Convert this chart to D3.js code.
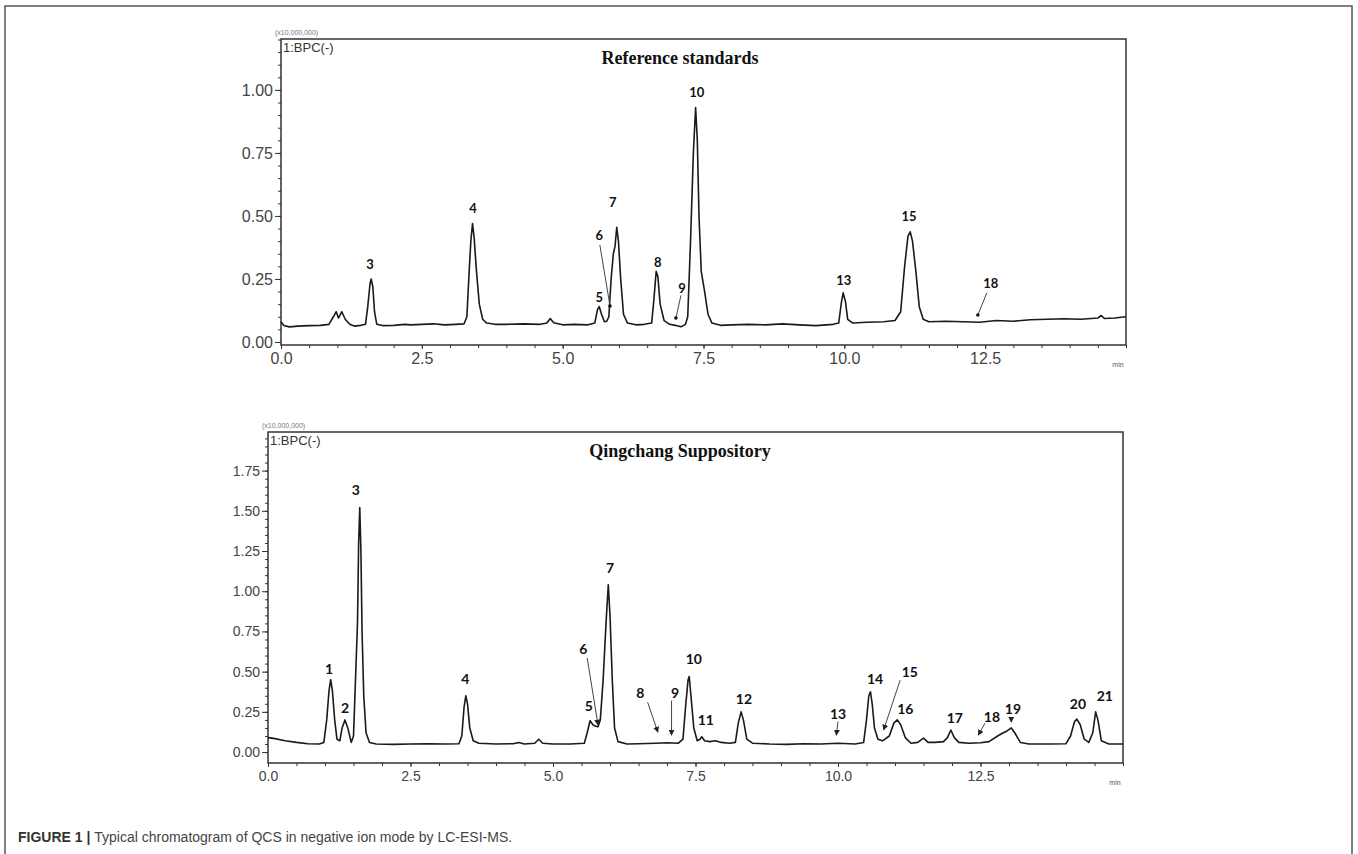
<!DOCTYPE html>
<html>
<head>
<meta charset="utf-8">
<script src="https://cdn.jsdelivr.net/npm/d3@7"></script>
<style>
  body { margin: 0; background: #fff; }
  svg { display: block; }
</style>
</head>
<body>
<svg id="fig" width="1358" height="854"></svg>
<script>
/* DATA (time in min, intensity in x10,000,000) */
const xTickLabels = [0, 2.5, 5, 7.5, 10, 12.5];
const topYTicks = [0, 0.25, 0.5, 0.75, 1.0];
const bottomYTicks = [0, 0.25, 0.5, 0.75, 1.0, 1.25, 1.5, 1.75];

// reference standards trace
const topTrace = [
  [0.0,0.08],[0.05,0.065],[0.15,0.06],[0.3,0.063],[0.5,0.065],[0.7,0.066],[0.85,0.07],
  [0.93,0.1],[0.98,0.12],[1.02,0.095],[1.08,0.12],[1.14,0.09],[1.22,0.07],[1.3,0.063],
  [1.42,0.066],[1.5,0.07],[1.54,0.14],[1.58,0.23],[1.6,0.25],[1.63,0.22],[1.66,0.12],
  [1.7,0.07],[1.8,0.065],[2.0,0.066],[2.2,0.07],[2.3,0.068],[2.5,0.07],[2.7,0.072],
  [2.9,0.068],[3.1,0.07],[3.25,0.072],[3.3,0.1],[3.34,0.28],[3.37,0.4],[3.4,0.47],
  [3.43,0.41],[3.47,0.28],[3.52,0.15],[3.58,0.09],[3.65,0.075],[3.8,0.07],[4.0,0.07],
  [4.3,0.072],[4.6,0.07],[4.72,0.075],[4.78,0.093],[4.84,0.076],[5.0,0.068],[5.2,0.07],
  [5.45,0.068],[5.57,0.075],[5.62,0.13],[5.65,0.14],[5.69,0.11],[5.74,0.08],[5.78,0.082],
  [5.82,0.1],[5.86,0.25],[5.9,0.35],[5.93,0.38],[5.96,0.455],[5.99,0.4],[6.03,0.25],
  [6.08,0.11],[6.15,0.075],[6.3,0.068],[6.45,0.07],[6.58,0.075],[6.62,0.17],[6.66,0.28],
  [6.69,0.26],[6.73,0.15],[6.8,0.085],[6.9,0.07],[7.0,0.066],[7.1,0.06],[7.18,0.07],
  [7.22,0.1],[7.27,0.4],[7.32,0.75],[7.36,0.93],[7.39,0.8],[7.42,0.5],[7.46,0.28],
  [7.52,0.2],[7.58,0.11],[7.65,0.075],[7.8,0.066],[8.0,0.068],[8.3,0.07],[8.6,0.068],
  [8.9,0.072],[9.2,0.068],[9.5,0.065],[9.8,0.07],[9.9,0.075],[9.95,0.16],[9.98,0.195],
  [10.02,0.16],[10.06,0.09],[10.15,0.075],[10.4,0.078],[10.7,0.08],[10.9,0.085],[11.0,0.12],
  [11.07,0.3],[11.13,0.42],[11.17,0.437],[11.21,0.4],[11.27,0.28],[11.33,0.14],[11.4,0.09],
  [11.5,0.08],[11.8,0.082],[12.1,0.08],[12.4,0.078],[12.7,0.085],[13.0,0.082],[13.3,0.088],
  [13.6,0.09],[13.9,0.092],[14.2,0.09],[14.5,0.095],[14.56,0.105],[14.62,0.093],[14.8,0.095],
  [15.0,0.1]
];

// Qingchang suppository trace
const bottomTrace = [
  [0,0.09],[0.1,0.085],[0.3,0.07],[0.5,0.06],[0.7,0.052],[0.9,0.05],[0.98,0.06],[1.03,0.2],
  [1.07,0.38],[1.1,0.45],[1.13,0.38],[1.17,0.2],[1.21,0.08],[1.26,0.07],[1.3,0.15],[1.35,0.2],
  [1.4,0.15],[1.46,0.06],[1.5,0.1],[1.54,0.5],[1.57,0.8],[1.59,1.3],[1.61,1.52],[1.63,1.25],
  [1.65,0.75],[1.68,0.35],[1.72,0.12],[1.78,0.06],[1.9,0.05],[2.2,0.048],[2.5,0.05],[2.8,0.052],
  [3.1,0.05],[3.35,0.052],[3.4,0.1],[3.44,0.28],[3.47,0.35],[3.5,0.3],[3.54,0.15],[3.6,0.07],
  [3.7,0.055],[4.0,0.05],[4.3,0.052],[4.4,0.06],[4.5,0.05],[4.68,0.055],[4.75,0.08],[4.82,0.055],
  [5.0,0.05],[5.3,0.05],[5.55,0.055],[5.6,0.12],[5.65,0.195],[5.7,0.17],[5.75,0.16],[5.79,0.157],
  [5.83,0.2],[5.88,0.45],[5.93,0.8],[5.97,1.04],[6.0,0.85],[6.04,0.45],[6.08,0.15],[6.14,0.065],
  [6.3,0.05],[6.5,0.052],[6.8,0.055],[7.0,0.058],[7.2,0.055],[7.28,0.08],[7.33,0.3],[7.37,0.45],
  [7.39,0.47],[7.42,0.35],[7.47,0.15],[7.53,0.07],[7.58,0.08],[7.61,0.095],[7.66,0.07],[7.75,0.065],
  [7.85,0.07],[7.95,0.06],[8.1,0.055],[8.2,0.06],[8.25,0.18],[8.3,0.25],[8.34,0.2],[8.4,0.08],
  [8.5,0.055],[8.8,0.05],[9.1,0.048],[9.4,0.052],[9.7,0.05],[10.0,0.055],[10.3,0.05],[10.45,0.06],
  [10.5,0.2],[10.54,0.35],[10.57,0.375],[10.6,0.3],[10.64,0.15],[10.7,0.08],[10.78,0.07],[10.9,0.1],
  [10.98,0.18],[11.04,0.2],[11.1,0.17],[11.18,0.09],[11.28,0.055],[11.4,0.06],[11.5,0.087],
  [11.58,0.06],[11.7,0.06],[11.85,0.065],[11.92,0.09],[11.98,0.137],[12.04,0.09],[12.12,0.06],
  [12.3,0.055],[12.5,0.058],[12.65,0.065],[12.8,0.1],[12.9,0.12],[12.96,0.13],[13.04,0.15],
  [13.1,0.12],[13.2,0.06],[13.35,0.05],[13.7,0.05],[14.0,0.052],[14.08,0.1],[14.15,0.19],
  [14.19,0.205],[14.25,0.17],[14.32,0.08],[14.4,0.06],[14.47,0.12],[14.52,0.25],[14.56,0.2],
  [14.62,0.07],[14.75,0.05],[15.0,0.05]
];

// peak labels: [label, time, intensity]
const topPeakLabels = [
  ["3",1.58,0.31],["4",3.41,0.53],["5",5.65,0.18],["6",5.65,0.425],["7",5.89,0.556],
  ["8",6.69,0.317],["9",7.12,0.214],["10",7.38,0.99],["13",9.99,0.246],["15",11.15,0.5],
  ["18",12.6,0.234]
];
// leader lines: [fromTime, fromInt, toTime, toInt]
const topLeaders = [
  [5.66,0.385,5.84,0.143],[7.1,0.185,7.01,0.095],[12.53,0.195,12.37,0.107]
];

const bottomPeakLabels = [
  ["1",1.07,0.52],["2",1.35,0.28],["3",1.54,1.63],["4",3.46,0.46],["5",5.63,0.29],
  ["6",5.53,0.646],["7",6.0,1.15],["8",6.53,0.373],["9",7.14,0.373],["10",7.47,0.58],
  ["11",7.68,0.2],["12",8.35,0.335],["13",10.0,0.242],["14",10.65,0.46],["15",11.26,0.5],
  ["16",11.18,0.273],["17",12.05,0.217],["18",12.7,0.224],["19",13.07,0.273],
  ["20",14.21,0.304],["21",14.68,0.354]
];
const bottomLeaders = [
  [5.6,0.585,5.79,0.168],[6.66,0.31,6.84,0.124],[7.08,0.32,7.08,0.105],
  [10.0,0.19,9.97,0.105],[11.09,0.447,10.8,0.137],[12.58,0.18,12.46,0.105],
  [13.04,0.215,13.04,0.186]
];

/* LAYOUT */
const svg = d3.select("#fig");

// outer frame of the figure
svg.append("path")
  .attr("d", "M5,860 V6 H1352 V860")
  .attr("fill", "none")
  .attr("stroke", "#555")
  .attr("stroke-width", 1.5);

const panels = [
  { title: "Reference standards", trace: topTrace, labels: topPeakLabels, leaders: topLeaders,
    left: 281, right: 1126, top: 39, bottom: 345, yDomain: [-0.012, 1.202], yTicks: topYTicks,
    tickFont: 16, xFont: 16, leaderEnd: "dot", labelFont: 13 },
  { title: "Qingchang Suppository", trace: bottomTrace, labels: bottomPeakLabels, leaders: bottomLeaders,
    left: 268, right: 1123, top: 432, bottom: 763, yDomain: [-0.068, 1.99], yTicks: bottomYTicks,
    tickFont: 14, xFont: 14, leaderEnd: "arrow", labelFont: 14 }
];

// arrowhead for the lower chart's leader lines
svg.append("defs").append("marker")
  .attr("id", "arrow")
  .attr("viewBox", "0 0 10 10")
  .attr("refX", 9).attr("refY", 5)
  .attr("markerWidth", 6).attr("markerHeight", 6)
  .attr("orient", "auto")
  .append("path")
  .attr("d", "M0,0 L10,5 L0,10 z")
  .attr("fill", "#222");

panels.forEach(p => {
  const g = svg.append("g");

  const x = d3.scaleLinear().domain([0, 15]).range([p.left, p.right]);
  const y = d3.scaleLinear().domain(p.yDomain).range([p.bottom, p.top]);

  // plot box
  g.append("rect")
    .attr("x", p.left).attr("y", p.top)
    .attr("width", p.right - p.left).attr("height", p.bottom - p.top)
    .attr("fill", "none").attr("stroke", "#333").attr("stroke-width", 1.5);

  // y axis: majors + minors
  const yMinor = d3.range(0, p.yDomain[1], 0.05);
  g.append("g")
    .attr("transform", `translate(${p.left},0)`)
    .call(d3.axisLeft(y).tickValues(yMinor).tickSize(3).tickFormat(""))
    .call(a => a.select(".domain").remove())
    .call(a => a.selectAll("line").attr("stroke", "#333"));
  g.append("g")
    .attr("transform", `translate(${p.left},0)`)
    .call(d3.axisLeft(y).tickValues(p.yTicks).tickSize(6).tickPadding(2).tickFormat(d3.format(".2f")))
    .call(a => a.select(".domain").remove())
    .call(a => a.selectAll("line").attr("stroke", "#333"))
    .call(a => a.selectAll("text")
      .attr("font-family", "Liberation Sans, Arial, sans-serif")
      .attr("font-size", p.tickFont)
      .attr("fill", "#444"));

  // x axis: majors + minors
  g.append("g")
    .attr("transform", `translate(0,${p.bottom})`)
    .call(d3.axisBottom(x).tickValues(d3.range(0, 15.01, 0.5)).tickSize(3).tickFormat(""))
    .call(a => a.select(".domain").remove())
    .call(a => a.selectAll("line").attr("stroke", "#333"));
  g.append("g")
    .attr("transform", `translate(0,${p.bottom})`)
    .call(d3.axisBottom(x).tickValues(xTickLabels).tickSize(4).tickPadding(4).tickFormat(d3.format(".1f")))
    .call(a => a.select(".domain").remove())
    .call(a => a.selectAll("line").attr("stroke", "#333"))
    .call(a => a.selectAll("text")
      .attr("font-family", "Liberation Sans, Arial, sans-serif")
      .attr("font-size", p.xFont)
      .attr("fill", "#444"));

  g.append("text")
    .attr("x", p.right - 8).attr("y", p.bottom + 22)
    .attr("text-anchor", "middle")
    .attr("font-family", "Liberation Sans, Arial, sans-serif")
    .attr("font-size", 7).attr("fill", "#555")
    .text("min");

  // header texts
  g.append("text")
    .attr("x", p.left - 6).attr("y", p.top - 4)
    .attr("font-family", "Liberation Sans, Arial, sans-serif")
    .attr("font-size", 7).attr("fill", "#777")
    .text("(x10,000,000)");
  g.append("text")
    .attr("x", p.left + 2).attr("y", p.top + 13)
    .attr("font-family", "Liberation Sans, Arial, sans-serif")
    .attr("font-size", 13).attr("fill", "#333")
    .text("1:BPC(-)");

  g.append("text")
    .attr("x", 680).attr("y", p.top + 25)
    .attr("text-anchor", "middle")
    .attr("font-family", "Liberation Serif, Times New Roman, serif")
    .attr("font-weight", "bold")
    .attr("font-size", 18).attr("fill", "#111")
    .text(p.title);

  // chromatogram trace
  const line = d3.line().x(d => x(d[0])).y(d => y(d[1]));
  g.append("path")
    .datum(p.trace)
    .attr("d", line)
    .attr("fill", "none")
    .attr("stroke", "#1a1a1a")
    .attr("stroke-width", 1.6)
    .attr("stroke-linejoin", "round");

  // leader lines
  g.selectAll("line.leader")
    .data(p.leaders)
    .join("line")
    .attr("class", "leader")
    .attr("x1", d => x(d[0])).attr("y1", d => y(d[1]))
    .attr("x2", d => x(d[2])).attr("y2", d => y(d[3]))
    .attr("stroke", "#444").attr("stroke-width", 1)
    .attr("marker-end", p.leaderEnd === "arrow" ? "url(#arrow)" : null);
  if (p.leaderEnd === "dot") {
    g.selectAll("circle.dot")
      .data(p.leaders)
      .join("circle")
      .attr("class", "dot")
      .attr("cx", d => x(d[2])).attr("cy", d => y(d[3]))
      .attr("r", 1.8).attr("fill", "#111");
  }

  // peak numbers
  g.selectAll("text.peak")
    .data(p.labels)
    .join("text")
    .attr("class", "peak")
    .attr("x", d => x(d[1])).attr("y", d => y(d[2]))
    .attr("text-anchor", "middle")
    .attr("dominant-baseline", "central")
    .attr("font-family", "Lato, Open Sans, sans-serif")
    .attr("font-weight", "bold")
    .attr("font-size", p.labelFont)
    .attr("fill", "#111")
    .text(d => d[0]);
});

// caption
const cap = svg.append("text")
  .attr("x", 18).attr("y", 842)
  .attr("font-family", "Liberation Sans, Arial, sans-serif")
  .attr("font-size", 14)
  .attr("fill", "#333");
cap.append("tspan").attr("font-weight", "bold").text("FIGURE 1 | ");
cap.append("tspan").attr("fill", "#444").text("Typical chromatogram of QCS in negative ion mode by LC-ESI-MS.");
</script>
</body>
</html>
